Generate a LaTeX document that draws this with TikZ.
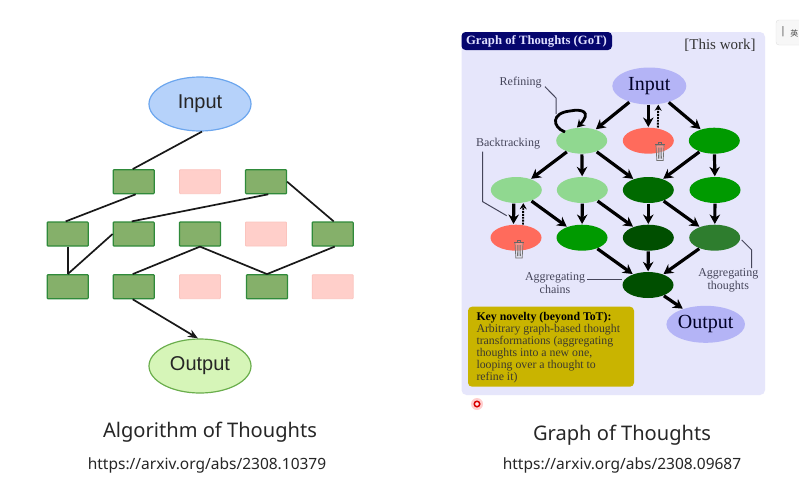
\documentclass[tikz,border=0pt]{standalone}
\usepackage{fontspec}
\setmainfont{Liberation Serif}
\newfontfamily\lsans{Liberation Sans}
\newfontfamily\capfont{Noto Sans}
\newfontfamily\cjkf{Noto Sans CJK SC}
\usetikzlibrary{shapes.geometric,arrows.meta}
\definecolor{boxg}{HTML}{85B06A}
\definecolor{boxgd}{HTML}{2F8A3A}
\definecolor{boxr}{HTML}{FFCFCA}
\definecolor{boxrd}{HTML}{FBC4BE}
\definecolor{panel}{HTML}{E6E6FB}
\definecolor{peri}{HTML}{B4B4F6}
\definecolor{lg}{HTML}{90D890}
\definecolor{tomato}{HTML}{FF6B5C}
\definecolor{gr}{HTML}{009A00}
\definecolor{dg}{HTML}{006A00}
\definecolor{ddg}{HTML}{004F00}
\definecolor{mg}{HTML}{2E7D2E}
\definecolor{navy2}{HTML}{06066E}
\definecolor{olive2}{HTML}{C9B400}
\definecolor{lbl}{HTML}{45455A}
\definecolor{inf}{HTML}{B6D2FA}
\definecolor{ind}{HTML}{6CA6EE}
\definecolor{ouf}{HTML}{D6F5B8}
\definecolor{oud}{HTML}{6AAE4C}
\tikzset{
  x=1pt,y=-1pt,
  gbox/.style={draw=boxgd,fill=boxg,line width=1.2pt,minimum width=41pt,minimum height=24pt,inner sep=0pt,rounded corners=0.8pt},
  rbox/.style={draw=boxrd,fill=boxr,line width=0.8pt,minimum width=41pt,minimum height=24pt,inner sep=0pt,rounded corners=0.8pt},
  oval/.style={shape=ellipse,inner sep=0pt,minimum width=51pt,minimum height=26pt},
  bigoval/.style={shape=ellipse,inner sep=0pt,minimum width=74pt,minimum height=37pt,fill=peri,text=black!85!blue,font=\fontsize{20}{24}\selectfont},
  lk/.style={line width=1.7pt,black!90},
  ar/.style={line width=3.2pt,black,-{Stealth[length=9.5pt,width=10.5pt]},shorten >=0.5pt,shorten <=0.5pt},
  dar/.style={line width=1.9pt,black,densely dotted,-{Stealth[length=6pt,width=7pt]}},
  callout/.style={line width=1pt,lbl},
  smalllbl/.style={font=\fontsize{12}{13}\selectfont,text=lbl,align=center,inner sep=0pt},
  pics/trashcan/.style={code={
    \draw[draw=black!55,line width=0.7pt,fill=black!12,fill opacity=0.35] (-4,-6.5) -- (-3.2,9) -- (3.2,9) -- (4,-6.5) -- cycle;
    \draw[black!60,line width=1pt] (-5,-7) -- (5,-7);
    \draw[black!60,line width=0.8pt] (-1.8,-7) -- (-1.8,-9) -- (1.8,-9) -- (1.8,-7);
    \draw[black!55,line width=0.6pt] (-1.7,-4) -- (-1.5,7) (0,-4) -- (0,7) (1.7,-4) -- (1.5,7);
  }},
}
\begin{document}
\begin{tikzpicture}
\useasboundingbox (0,0) rectangle (799,485);
\fill[white] (0,0) rectangle (799,485);

% ---------- left diagram ----------
\node[shape=ellipse,draw=ind,fill=inf,line width=1.2pt,minimum width=102pt,minimum height=54pt,inner sep=0pt,font=\lsans\fontsize{20}{24}\selectfont,text=black!85] (lin) at (200,104) {Input};
\node[shape=ellipse,draw=oud,fill=ouf,line width=1.2pt,minimum width=102pt,minimum height=54pt,inner sep=0pt,font=\lsans\fontsize{20}{24}\selectfont,text=black!85] (lout) at (200,366) {Output};
\node[gbox] (r11) at (133.7,181.7) {};
\node[rbox] (r12) at (200,181.7) {};
\node[gbox] (r13) at (266,181.7) {};
\node[gbox] (r21) at (67.7,234) {};
\node[gbox] (r22) at (133.7,234) {};
\node[gbox] (r23) at (200,234) {};
\node[rbox] (r24) at (266,234) {};
\node[gbox] (r25) at (332.7,234) {};
\node[gbox] (r31) at (67.7,286.7) {};
\node[gbox] (r32) at (133.7,286.7) {};
\node[rbox] (r33) at (200,286.7) {};
\node[gbox] (r34) at (267,286.7) {};
\node[rbox] (r35) at (332.7,286.7) {};
\draw[lk] ([xshift=2pt]lin.south) -- ([xshift=-1pt]r11.north);
\draw[lk] ([xshift=2pt]r11.south) -- ([xshift=-2pt]r21.north);
\draw[lk] ([xshift=2.3pt]r13.south) -- ([xshift=-2pt]r22.north);
\draw[lk] (r13.east) -- ([xshift=1pt]r25.north);
\draw[lk] (r21.south) -- (r31.north);
\draw[lk] (r22.west) -- (r31.north);
\draw[lk] (r23.south) -- ([xshift=-1pt]r32.north);
\draw[lk] (r23.south) -- (r34.north);
\draw[lk] ([xshift=2pt]r25.south) -- (r34.north);
\draw[lk,-{Stealth[length=10pt,width=8pt]}] ([xshift=-1pt]r32.south) -- ([xshift=-2pt]lout.north);

% ---------- captions ----------
\node[font=\capfont\fontsize{20.1}{24}\selectfont,text=black!85] (cap1) at (210,432) {Algorithm of Thoughts};
\node[font=\capfont\fontsize{15.5}{18}\selectfont,text=black!85] (url1) at (207,465) {https://arxiv.org/abs/2308.10379};
\node[font=\capfont\fontsize{20.1}{24}\selectfont,text=black!85] (cap2) at (622,435) {Graph of Thoughts};
\node[font=\capfont\fontsize{15.5}{18}\selectfont,text=black!85] (url2) at (622,465) {https://arxiv.org/abs/2308.09687};

% ---------- right panel ----------
\fill[panel,rounded corners=5pt] (461.5,32) rectangle (765,395);
\fill[navy2,rounded corners=4pt] (461.5,32) rectangle (612,50);
\node[font=\bfseries\fontsize{12.7}{14}\selectfont,text=white!88!blue] (gtitle) at (536.5,41) {Graph of Thoughts (GoT)};
\node[font=\fontsize{15}{17}\selectfont,text=black!80] (work) at (720,45.7) {[This work]};

\node[bigoval] (in) at (649.3,86) {Input};
\node[oval,fill=lg] (a1) at (581.7,140.7) {};
\node[oval,fill=tomato] (a2) at (648.3,140.7) {};
\node[oval,fill=gr] (a3) at (714.3,140.7) {};
\node[oval,fill=lg] (b1) at (516.3,190) {};
\node[oval,fill=lg] (b2) at (582.3,190) {};
\node[oval,fill=dg] (b3) at (648.3,190) {};
\node[oval,fill=gr] (b4) at (715,190) {};
\node[oval,fill=tomato] (c1) at (516,237.7) {};
\node[oval,fill=gr] (c2) at (582,237.7) {};
\node[oval,fill=ddg] (c3) at (648.3,237.7) {};
\node[oval,fill=mg] (c4) at (714.7,237.7) {};
\node[oval,fill=ddg] (d) at (648,285) {};
\node[bigoval] (out) at (705.7,324.3) {Output};
\pic at (660,151.5) {trashcan};
\pic at (519,249) {trashcan};

\draw[ar] (in) -- (a1);
\draw[ar] (in.south -| a2) -- (a2);
\draw[dar] ([xshift=9.5pt]a2.north) -- ([xshift=9pt]in.south);
\draw[ar] (in) -- (a3);
\draw[ar] (a1) -- (b1);
\draw[ar] (a1) -- (b2);
\draw[ar] (a1) -- (b3);
\draw[ar] (a3) -- (b3);
\draw[ar] (a3) -- (b4);
\draw[ar] ([xshift=-2.5pt]b1.south) -- ([xshift=-2.5pt]c1.north);
\draw[dar] ([xshift=7pt]c1.north) -- ([xshift=7pt]b1.south);
\draw[ar] (b1) -- (c2);
\draw[ar] (b2) -- (c2);
\draw[ar] (b2) -- (c3);
\draw[ar] (b3) -- (c3);
\draw[ar] (b3) -- (c4);
\draw[ar] (b4) -- (c4);
\draw[ar] (c2) -- (d);
\draw[ar] (c3) -- (d);
\draw[ar] (c4) -- (d);
\draw[ar] (d) -- (out);
% self loop
\coordinate (lpa) at (565,132);
\coordinate (lpb) at (570,111);
\coordinate (lpc) at (577,127.5);
\draw[line width=2.8pt,black,-{Stealth[length=7.5pt,width=9pt]}] (lpa) .. controls (552,127) and (551,113) .. (lpb) .. controls (582,108.5) and (592,112) .. (lpc);

% callouts
\node[smalllbl] (refl) at (520.7,82.7) {Refining};
\node[smalllbl] (backl) at (508,144) {Backtracking};
\node[smalllbl] (chl) at (555,282.7) {Aggregating\\chains};
\node[smalllbl] (thl) at (728.3,280) {Aggregating\\thoughts};
\coordinate (ref1) at (545,86.7);
\coordinate (ref2) at (556,98);
\coordinate (ref3) at (556,114);
\coordinate (bk1) at (482.7,151.7);
\coordinate (bk2) at (482.7,201.7);
\coordinate (bk3) at (506.7,215.7);
\coordinate (ch1) at (587.3,279);
\coordinate (ch2) at (621.7,279);
\coordinate (th1) at (741.7,240);
\coordinate (th2) at (751.7,250);
\coordinate (th3) at (751.7,268);
\draw[callout] (ref1) -- (ref2) -- (ref3);
\draw[callout] (bk1) -- (bk2) -- (bk3);
\draw[callout] (ch1) -- (ch2);
\draw[callout] (th1) -- (th2) -- (th3);

% key box
\node[fill=olive2,rounded corners=4pt,minimum width=166pt,minimum height=80pt,inner sep=0pt] (key) at (551,346.7) {};
\node[anchor=west,font=\fontsize{11.8}{12}\selectfont,align=left,text=black!75!olive,inner sep=0pt] (keyt) at (476.3,347.5) {\textbf{\textcolor{black}{Key novelty (beyond ToT):}}\\Arbitrary graph-based thought\\transformations (aggregating\\thoughts into a new one,\\looping over a thought to\\refine it)};

% cursor dot
\fill[red!55,opacity=0.35] (477,404) circle (6pt);
\node[shape=circle,draw=red!85!black,fill=white!70!pink,line width=1.5pt,minimum size=5.5pt,inner sep=0pt] (dot) at (477,404) {};

% widget at top right
\begin{scope}
\clip (770,15) rectangle (799,50);
\node[draw=black!12,fill=black!3,rounded corners=3pt,minimum width=46pt,minimum height=25pt,inner sep=0pt] (wdg) at (799,32.5) {};
\end{scope}
\node[font=\lsans\fontsize{11}{12}\selectfont,text=black!60] (wbar) at (783,32) {|};
\node[font=\cjkf\fontsize{8}{10}\selectfont,text=black!70,anchor=east,inner sep=0pt] (wch) at (798.5,33) {英};
\end{tikzpicture}
\end{document}
